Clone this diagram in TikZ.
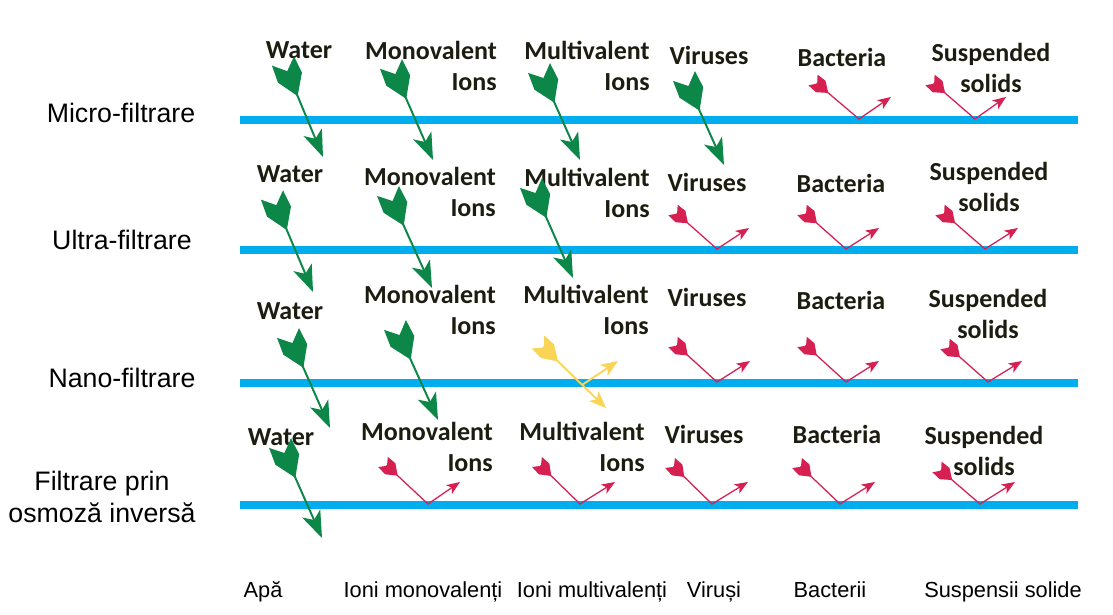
\documentclass[tikz,border=0pt]{standalone}
\usepackage{fontspec}
\setmainfont{Liberation Sans}
\newfontfamily\colfont{Carlito}
\usetikzlibrary{arrows.meta}
\definecolor{mem}{RGB}{0,174,239}
\definecolor{grn}{RGB}{12,135,72}
\definecolor{rd}{RGB}{214,32,82}
\definecolor{ylw}{RGB}{250,212,85}
\definecolor{ink}{RGB}{28,28,16}

\begin{document}
\begin{tikzpicture}[x=0.025cm,y=-0.025cm,
  membrane/.style={draw=mem,line width=5.7pt},
  pass/.style={draw=grn,line width=1.4pt,shorten <=8pt,-{Stealth[length=19pt,width=14pt,inset=5pt]}},
  stop/.style={draw=rd,line width=0.9pt,shorten <=3.5pt,-{Stealth[length=9.5pt,width=7.5pt,inset=2.5pt]}},
  half/.style={draw=ylw,line width=1.3pt,shorten <=5pt,-{Stealth[length=12pt,width=9.5pt,inset=3pt]}},
  gfletch/.pic={\fill[grn] (0,12) -- (11,0) -- (0,-12) -- (18,-13) -- (38,0) -- (18,13) -- cycle;},
  rfletch/.pic={\fill[rd] (0,7) -- (5.5,0) -- (0,-7) -- (10,-7.5) -- (20,0) -- (10,7.5) -- cycle;},
  yfletch/.pic={\fill[ylw] (0,9) -- (8,0) -- (0,-9) -- (13,-9.5) -- (28,0) -- (13,9.5) -- cycle;},
  col/.style={font=\colfont\bfseries\fontsize{18.5}{22}\selectfont,text=ink,inner sep=0pt},
  rowlab/.style={font=\fontsize{19}{22.8}\selectfont,align=center,inner sep=0pt},
  bot/.style={font=\fontsize{15.5}{18}\selectfont,anchor=base,inner sep=0pt}]
\useasboundingbox (0,0) rectangle (1113,615);
\draw[membrane] (240,120) -- (1078,120);
\draw[membrane] (240,250) -- (1078,250);
\draw[membrane] (240,383) -- (1078,383);
\draw[membrane] (240,505) -- (1078,505);
\node[rowlab] (micro) at (121,113) {Micro-filtrare};
\node[rowlab] (ultra) at (122,240) {Ultra-filtrare};
\node[rowlab] (nano) at (122,378) {Nano-filtrare};
\node[rowlab] (ro) at (102,497) {Filtrare prin\\osmoză inversă};
\node[col] (w1) at (299,50) {Water};
\node[col,align=right] (mo1) at (431,66) {Monovalent\\Ions};
\node[col,align=right] (mu1) at (587,66) {Multivalent\\Ions};
\node[col] (v1) at (709,55) {Viruses};
\node[col] (b1) at (842,57) {Bacteria};
\node[col,align=center] (s1) at (991,68) {Suspended\\solids};
\node[col] (w2) at (290,174) {Water};
\node[col,align=right] (mo2) at (430,192) {Monovalent\\Ions};
\node[col,align=right] (mu2) at (587,193) {Multivalent\\Ions};
\node[col] (v2) at (707,182) {Viruses};
\node[col] (b2) at (841,183) {Bacteria};
\node[col,align=center] (s2) at (989,187) {Suspended\\solids};
\node[col] (w3) at (290,311) {Water};
\node[col,align=right] (mo3) at (430,310) {Monovalent\\Ions};
\node[col,align=right] (mu3) at (586,310) {Multivalent\\Ions};
\node[col] (v3) at (707,297) {Viruses};
\node[col] (b3) at (841,300) {Bacteria};
\node[col,align=center] (s3) at (988,314) {Suspended\\solids};
\node[col] (w4) at (281,437) {Water};
\node[col,align=right] (mo4) at (427,447) {Monovalent\\Ions};
\node[col,align=right] (mu4) at (582,447) {Multivalent\\Ions};
\node[col] (v4) at (704,434) {Viruses};
\node[col] (b4) at (837,434) {Bacteria};
\node[col,align=center] (s4) at (984,451) {Suspended\\solids};
\node[bot] (apa) at (263,598) {Apă};
\node[bot] (imono) at (423,598) {Ioni monovalenți};
\node[bot] (imulti) at (592,598) {Ioni multivalenți};
\node[bot] (vir) at (714,598) {Viruși};
\node[bot] (bac) at (830,598) {Bacterii};
\node[bot] (susp) at (1003,598) {Suspensii solide};
\draw[pass] (283,61) -- (323,157) pic[pos=0,sloped]{gfletch};
\draw[pass] (391,64) -- (433,160) pic[pos=0,sloped]{gfletch};
\draw[pass] (539,68) -- (580,160) pic[pos=0,sloped]{gfletch};
\draw[pass] (684,76) -- (724,165) pic[pos=0,sloped]{gfletch};
\draw[stop] (813,80) -- (859,119) pic[pos=0,sloped]{rfletch} -- (891,97);
\draw[stop] (930,80) -- (975,119) pic[pos=0,sloped]{rfletch} -- (1006,97);
\draw[pass] (272,195) -- (313,292) pic[pos=0,sloped]{gfletch};
\draw[pass] (388,191) -- (432,288) pic[pos=0,sloped]{gfletch};
\draw[pass] (531,183) -- (573,278) pic[pos=0,sloped]{gfletch};
\draw[stop] (673,210) -- (717,249) pic[pos=0,sloped]{rfletch} -- (749,228);
\draw[stop] (802,210) -- (846,249) pic[pos=0,sloped]{rfletch} -- (879,228);
\draw[stop] (940,210) -- (985,249) pic[pos=0,sloped]{rfletch} -- (1018,228);
\draw[pass] (288,333) -- (330,428) pic[pos=0,sloped]{gfletch};
\draw[pass] (395,325) -- (438,420) pic[pos=0,sloped]{gfletch};
\draw[half] (538,342) -- (606,408) pic[pos=0,sloped]{yfletch};
\draw[half,shorten <=0pt] (582,385) -- (618,361);
\draw[stop] (673,342) -- (717,382) pic[pos=0,sloped]{rfletch} -- (750,361);
\draw[stop] (802,342) -- (846,382) pic[pos=0,sloped]{rfletch} -- (879,361);
\draw[stop] (945,344) -- (988,382) pic[pos=0,sloped]{rfletch} -- (1022,361);
\draw[pass] (280,443) -- (322,538) pic[pos=0,sloped]{gfletch};
\draw[stop] (383,462) -- (428,504) pic[pos=0,sloped]{rfletch} -- (460,482);
\draw[stop] (537,462) -- (580,504) pic[pos=0,sloped]{rfletch} -- (615,482);
\draw[stop] (670,463) -- (712,504) pic[pos=0,sloped]{rfletch} -- (748,482);
\draw[stop] (797,463) -- (840,504) pic[pos=0,sloped]{rfletch} -- (875,482);
\draw[stop] (937,467) -- (980,504) pic[pos=0,sloped]{rfletch} -- (1015,482);
\end{tikzpicture}
\end{document}
